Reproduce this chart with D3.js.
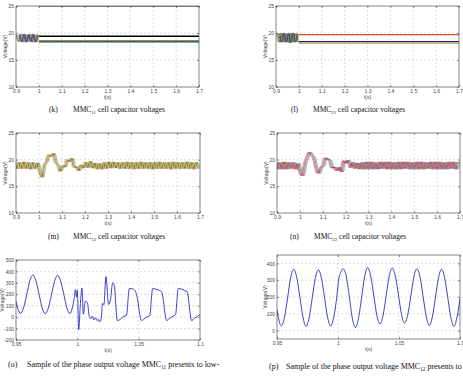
<!DOCTYPE html>
<html><head><meta charset="utf-8">
<script src="https://cdn.jsdelivr.net/npm/d3@7"></script>
<style>body{margin:0;background:#fff} svg{display:block}</style>
</head><body>
<script>
// ---------------- DATA ----------------
const capTicksX = [0.9,1.0,1.1,1.2,1.3,1.4,1.5,1.6,1.7];
const capTickLabelsX = ["0.9","1","1.1","1.2","1.3","1.4","1.5","1.6","1.7"];
const capTicksY = [10,15,20,25];
const capTickLabelsY = ["10","15","20","25"];
const phaseTicksX = [0.95,1.0,1.05,1.1];
const phaseTickLabelsX = ["0.95","1","1.05","1.1"];
const oTicksY = [-200,-100,0,100,200,300,400,500];
const pTicksY = [0,100,200,300,400];

const rippleStep = 0.01;           // sampling of the ripple tables (s)
// (k) MMC11: ripple 0.90..1.00 then constant levels
const kRipple = [19.7,18.4,19.8,18.3,19.7,18.4,19.8,18.3,19.7,18.4,19.6];
const kOffsets = [0,0.004,0.008,0.012,0.016];
const kColors = ["#00a000","#d000d0","#c8c800","#2040ff","#202020"];
const kHoldLevels = [24.95,19.45,19.35,18.5,18.3];
const kHoldColors = ["#777777","#000000","#000000","#111111","#5a9a5a"];
// (l) MMC21
const lRipple = [19.9,18.3,20.0,18.3,19.9,18.2,20.0,18.3,19.9,18.3,19.8];
const lOffsets = [0,0.004,0.008,0.012,0.016];
const lColors = ["#c8c800","#ff2020","#00a000","#2040ff","#202020"];
const lHoldLevels = [19.7,18.4,18.1];
const lHoldColors = ["#e05020","#301060","#a0a040"];
// (m) MMC12: 0.90..1.70 every 0.01
const mValues = [19.5,18.3,19.5,18.3,19.6,18.3,19.5,18.2,19.5,18.3,
  19.4,17.9,16.7,18.9,19.6,20.9,20.6,21.2,19.5,19.0,
  17.8,18.9,18.6,20.0,19.6,20.3,18.6,18.6,17.9,19.0,
  18.4,19.5,18.5,19.7,18.4,19.4,18.2,19.3,18.2,19.5,
  18.3,19.6,18.4,19.6,18.4,19.5,18.3,19.5,18.3,19.6,
  18.3,19.5,18.2,19.5,18.3,19.6,18.3,19.5,18.3,19.5,
  18.2,19.5,18.3,19.6,18.3,19.5,18.3,19.5,18.2,19.6,
  18.3,19.5,18.3,19.5,18.3,19.6,18.3,19.5,18.2,19.5,18.3];
const mOffsets = [0,0.005,0.01,0.015];
const mColors = ["#00a000","#e02020","#303030","#c8c000"];
// (n) MMC22
const nValues = [19.5,18.2,19.5,18.2,19.6,18.2,19.5,18.3,19.5,18.2,
  19.3,17.6,17.0,19.2,20.4,21.4,20.9,20.2,18.4,17.4,
  18.5,18.9,20.3,20.1,19.8,18.4,18.6,17.9,18.6,17.7,
  19.8,19.3,19.9,18.5,19.5,18.3,19.4,18.2,19.5,18.2,
  19.6,18.2,19.6,18.2,19.5,18.2,19.6,18.3,19.6,18.2,
  19.6,18.2,19.5,18.2,19.6,18.2,19.6,18.3,19.6,18.2,
  19.5,18.2,19.6,18.2,19.6,18.2,19.5,18.3,19.6,18.2,
  19.6,18.2,19.6,18.2,19.5,18.2,19.6,18.3,19.6,18.2,19.6];
const nOffsets = [0,0.005,0.01,0.015];
const nColors = ["#00a000","#c000c0","#303030","#e02020"];
// (o) phase output voltage MMC11  [t(s), V]
const oWave = [[0.9500,140],[0.9515,75],[0.9536,32],[0.9561,80],[0.9587,195],[0.9612,315],[0.9637,368],[0.9662,318],
  [0.9688,200],[0.9713,82],[0.9738,30],[0.9763,78],[0.9789,195],[0.9814,312],[0.9839,366],[0.9864,315],[0.9890,198],
  [0.9915,80],[0.9940,32],[0.9958,75],[0.9975,170],[0.9985,240],[0.9993,175],[1.0000,235],[1.0011,-110],[1.0025,120],
  [1.0038,255],[1.0049,25],[1.0065,140],[1.0081,130],[1.0098,5],[1.0110,-15],[1.0122,10],[1.0135,-25],[1.0148,-5],
  [1.0160,-30],[1.0172,-20],[1.0180,-42],[1.0195,-10],[1.0206,120],[1.0217,110],[1.0233,355],[1.0255,110],[1.0270,150],
  [1.0288,300],[1.0300,285],[1.0326,-30],[1.0350,-20],[1.0374,5],[1.0400,15],[1.0424,250],[1.0450,248],[1.0462,240],
  [1.0472,230],[1.0484,190],[1.0524,-30],[1.0545,-15],[1.0565,0],[1.0590,12],[1.0614,250],[1.0640,245],[1.0660,238],
  [1.0687,222],[1.0728,-30],[1.0750,-12],[1.0782,10],[1.0800,20],[1.0823,250],[1.0850,245],[1.0877,232],[1.0895,222],
  [1.0932,-30],[1.0955,-10],[1.0980,8],[1.1000,20]];
// (p) phase output voltage MMC12  [t(s), V]
const pWave = [[0.9500,123],[0.9511,78],[0.9536,28],[0.9561,78],[0.9587,195],[0.9612,315],[0.9637,365],[0.9662,316],
  [0.9688,198],[0.9713,80],[0.9738,25],[0.9763,75],[0.9789,195],[0.9814,312],[0.9839,362],[0.9864,313],[0.9890,196],
  [0.9915,78],[0.9940,27],[0.9965,80],[0.9991,205],[1.0005,300],[1.0025,350],[1.0041,368],[1.0066,330],[1.0092,205],
  [1.0117,75],[1.0142,18],[1.0167,70],[1.0193,195],[1.0218,320],[1.0243,375],[1.0268,325],[1.0294,205],[1.0319,88],
  [1.0344,40],[1.0369,90],[1.0395,208],[1.0420,325],[1.0445,372],[1.0470,325],[1.0496,210],[1.0521,95],[1.0546,45],
  [1.0571,92],[1.0597,205],[1.0622,320],[1.0647,368],[1.0672,320],[1.0698,200],[1.0723,85],[1.0748,30],[1.0773,80],
  [1.0799,198],[1.0824,315],[1.0849,365],[1.0874,315],[1.0900,195],[1.0925,78],[1.0950,25],[1.0975,78],[1.1000,190]];

// ---------------- DRAWING ----------------
const W = 463, H = 380;
const svg = d3.select("body").append("svg").attr("width", W).attr("height", H);
svg.append("rect").attr("width", W).attr("height", H).attr("fill", "#fff");
const tickFont = "Liberation Sans, Arial, sans-serif";
const capFont = "Liberation Serif, Times New Roman, serif";
let clipId = 0;

function panel(box, xDom, yDom, xTicks, xLabels, yTicks, yLabels, ylabOff) {
  const x = d3.scaleLinear().domain(xDom).range([box.x0, box.x1]);
  const y = d3.scaleLinear().domain(yDom).range([box.y1, box.y0]);
  const g = svg.append("g");
  const id = "clip" + (clipId++);
  g.append("clipPath").attr("id", id).append("rect")
    .attr("x", box.x0).attr("y", box.y0).attr("width", box.x1 - box.x0).attr("height", box.y1 - box.y0);
  const grid = g.append("g").attr("stroke", "#b8b8b8").attr("stroke-width", 0.5).attr("stroke-dasharray", "2,2");
  xTicks.forEach(t => { const px = x(t); if (px > box.x0 + 0.5 && px < box.x1 - 0.5)
    grid.append("line").attr("x1", px).attr("x2", px).attr("y1", box.y0).attr("y2", box.y1); });
  yTicks.forEach(t => { const py = y(t); if (py > box.y0 + 0.5 && py < box.y1 - 0.5)
    grid.append("line").attr("y1", py).attr("y2", py).attr("x1", box.x0).attr("x2", box.x1); });
  const plot = g.append("g").attr("clip-path", `url(#${id})`);
  const fmtX = (d, i) => xLabels[i];
  const fmtY = (d, i) => yLabels[i];
  const ax = g.append("g").attr("transform", `translate(0,${box.y1})`)
    .call(d3.axisBottom(x).tickValues(xTicks).tickFormat(fmtX).tickSize(-2).tickPadding(2.5));
  const ay = g.append("g").attr("transform", `translate(${box.x0},0)`)
    .call(d3.axisLeft(y).tickValues(yTicks).tickFormat(fmtY).tickSize(-2).tickPadding(2));
  const at = g.append("g").attr("transform", `translate(0,${box.y0})`)
    .call(d3.axisTop(x).tickValues(xTicks).tickFormat("").tickSize(-2));
  const ar = g.append("g").attr("transform", `translate(${box.x1},0)`)
    .call(d3.axisRight(y).tickValues(yTicks).tickFormat("").tickSize(-2));
  [ax, ay, at, ar].forEach(a => {
    a.select(".domain").remove();
    a.selectAll("line").attr("stroke", "#333").attr("stroke-width", 0.5);
    a.selectAll("text").attr("font-family", tickFont).attr("font-size", 5).attr("fill", "#444");
  });
  g.append("rect").attr("x", box.x0).attr("y", box.y0).attr("width", box.x1 - box.x0).attr("height", box.y1 - box.y0)
    .attr("fill", "none").attr("stroke", "#333").attr("stroke-width", 0.6);
  g.append("text").attr("x", (box.x0 + box.x1) / 2).attr("y", box.y1 + 11.5).attr("text-anchor", "middle")
    .attr("font-family", tickFont).attr("font-size", 5).attr("fill", "#444").text("t(s)");
  g.append("text").attr("transform", `translate(${box.x0 - ylabOff},${(box.y0 + box.y1) / 2}) rotate(-90)`)
    .attr("text-anchor", "middle").attr("font-family", tickFont).attr("font-size", 5).attr("fill", "#444").text("Voltage(V)");
  return {x, y, plot};
}

function caption(lx, tx, by, label, pre, sub, post, fs) {
  svg.append("text").attr("x", lx).attr("y", by).attr("font-family", capFont).attr("font-size", fs).attr("fill", "#111").text(label);
  const t = svg.append("text").attr("x", tx).attr("y", by).attr("font-family", capFont).attr("font-size", fs).attr("fill", "#111");
  t.append("tspan").text(pre);
  t.append("tspan").attr("font-size", fs * 0.65).attr("dy", fs * 0.25).text(sub);
  t.append("tspan").attr("dy", -fs * 0.25).text(post);
}

function drawCapPanel(box, ripple, offsets, colors, holdLevels, holdColors) {
  const P = panel(box, [0.9, 1.7], [10, 25], capTicksX, capTickLabelsX, capTicksY, capTickLabelsY, 9);
  const line = d3.line().x(d => P.x(d[0])).y(d => P.y(d[1])).curve(d3.curveMonotoneX);
  holdLevels.forEach((v, i) => {
    P.plot.append("path").datum([[1.0, v], [1.7, v]]).attr("d", d3.line().x(d => P.x(d[0])).y(d => P.y(d[1])))
      .attr("stroke", holdColors[i]).attr("stroke-width", 1.1).attr("fill", "none");
  });
  offsets.forEach((off, s) => {
    const pts = ripple.map((v, i) => [0.9 + off + i * rippleStep, v]).filter(d => d[0] <= 1.0);
    P.plot.append("path").datum(pts).attr("d", line).attr("stroke", colors[s]).attr("stroke-width", 0.7).attr("fill", "none");
  });
}

function drawRipplePanel(box, values, offsets, colors) {
  const P = panel(box, [0.9, 1.7], [10, 25], capTicksX, capTickLabelsX, capTicksY, capTickLabelsY, 9);
  const line = d3.line().x(d => P.x(d[0])).y(d => P.y(d[1])).curve(d3.curveMonotoneX);
  offsets.forEach((off, s) => {
    const pts = values.map((v, i) => [0.9 - off + i * rippleStep, v]);
    P.plot.append("path").datum(pts).attr("d", line).attr("stroke", colors[s]).attr("stroke-width", 0.55).attr("fill", "none");
  });
}

function drawWavePanel(box, wave, yDom, yTicks, ylabOff) {
  const P = panel(box, [0.95, 1.1], yDom, phaseTicksX, phaseTickLabelsX, yTicks, yTicks.map(String), ylabOff);
  const line = d3.line().x(d => P.x(d[0])).y(d => P.y(d[1])).curve(d3.curveMonotoneX);
  P.plot.append("path").datum(wave).attr("d", line).attr("stroke", "#2a2ac8").attr("stroke-width", 0.9).attr("fill", "none");
}

drawCapPanel({x0:16, x1:199, y0:6, y1:87}, kRipple, kOffsets, kColors, kHoldLevels, kHoldColors);
drawCapPanel({x0:276, x1:459, y0:6, y1:87}, lRipple, lOffsets, lColors, lHoldLevels, lHoldColors);
drawRipplePanel({x0:16, x1:200, y0:133, y1:213}, mValues, mOffsets, mColors);
drawRipplePanel({x0:277, x1:460, y0:133, y1:213}, nValues, nOffsets, nColors);
drawWavePanel({x0:16, x1:200, y0:260, y1:340}, oWave, [-200, 500], oTicksY, 12);
drawWavePanel({x0:277, x1:460, y0:255, y1:339}, pWave, [-50, 450], pTicksY, 10);

caption(49, 73, 112, "(k)", "MMC", "11", " cell capacitor voltages", 7.5);
caption(291, 313, 112, "(l)", "MMC", "21", " cell capacitor voltages", 7.5);
caption(48, 73, 239, "(m)", "MMC", "12", " cell capacitor voltages", 7.5);
caption(290, 314, 239, "(n)", "MMC", "22", " cell capacitor voltages", 7.5);
caption(8, 27, 367, "(o)", "Sample of the phase output voltage MMC", "11", " presents to low-", 8);
caption(269, 286, 369, "(p)", "Sample of the phase output voltage MMC", "12", " presents to", 8);
</script>
</body></html>
